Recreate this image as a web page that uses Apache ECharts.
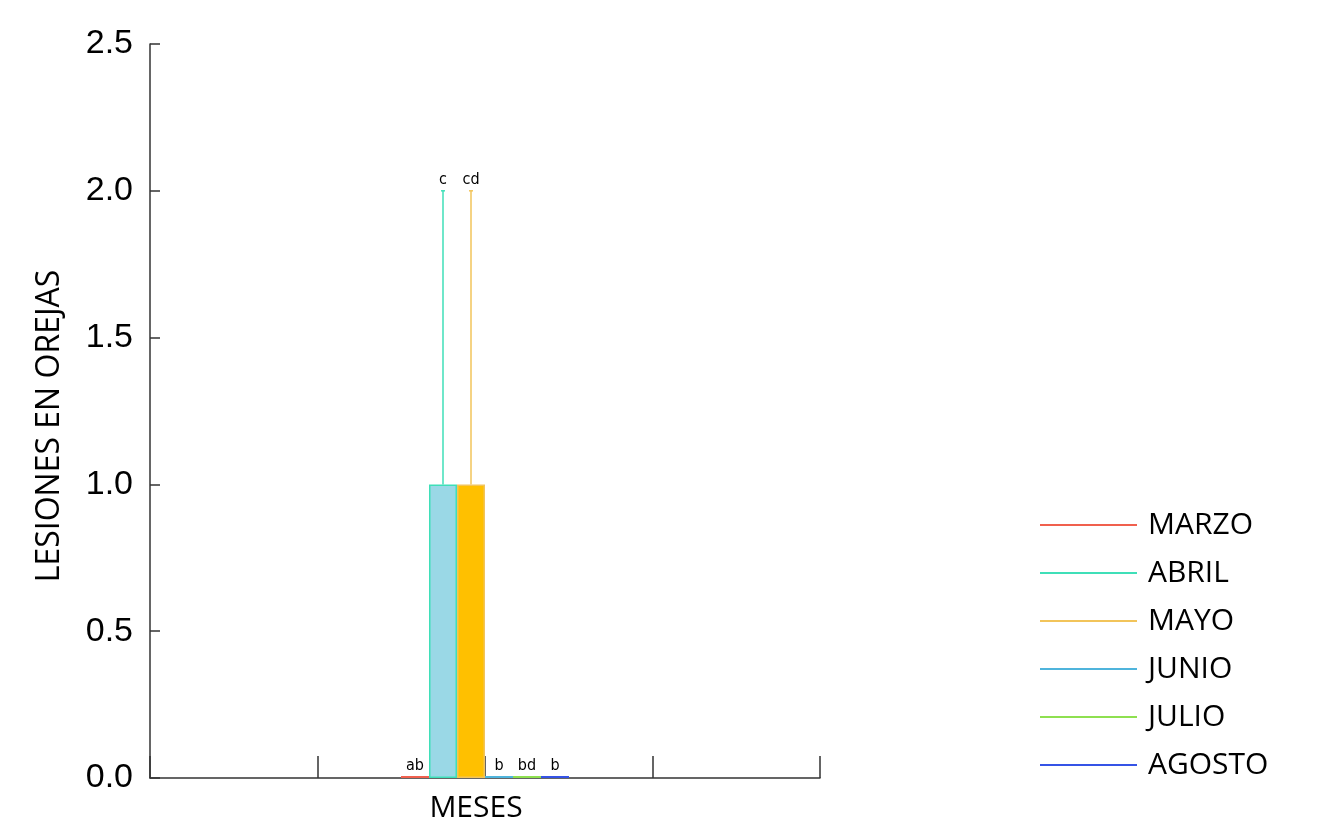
<!DOCTYPE html>
<html>
<head>
<meta charset="utf-8">
<script src="https://cdn.jsdelivr.net/npm/echarts@6/dist/echarts.min.js"></script>
<style>
  html, body { margin: 0; padding: 0; background: #ffffff; }
  #chart { width: 1330px; height: 827px; }
</style>
</head>
<body>
<div id="chart"></div>
<script>
// Single group of monthly means for ear lesions
const categories = ['MESES'];
const months = ['MARZO', 'ABRIL', 'MAYO', 'JUNIO', 'JULIO', 'AGOSTO'];
const means = [0, 1, 1, 0, 0, 0];
const upperErrors = [0, 2, 2, 0, 0, 0];
const letters = ['ab', 'c', 'cd', 'b', 'bd', 'b'];
const yTicks = [0, 0.5, 1.0, 1.5, 2.0, 2.5];

const lineColors = ['#F0604E', '#3FDFB8', '#F2C45A', '#4FB4DC', '#8EE050', '#3553E6'];
const fillColors = ['#F0604E', '#9AD8E6', '#FFC000', '#4FB4DC', '#8EE050', '#3553E6'];

const BAR_W = 28;
const chart = echarts.init(document.getElementById('chart'));

const barSeries = months.map((m, i) => ({
  name: m,
  type: 'bar',
  xAxisIndex: 0,
  barWidth: BAR_W,
  barGap: '0%',
  barMinHeight: 2,
  data: [means[i]],
  itemStyle: {
    color: fillColors[i],
    borderColor: lineColors[i],
    borderWidth: means[i] > 0 ? 1.5 : 0
  },
  emphasis: { disabled: true },
  z: 3
}));

// Error whiskers and significance letters, one per month
const annot = {
  type: 'custom',
  xAxisIndex: 0,
  silent: true,
  z: 4,
  data: months.map((m, i) => [0, means[i], upperErrors[i], i]),
  renderItem: function (params, api) {
    const i = api.value(3);
    const base = api.coord([0, api.value(1)]);
    const top = api.coord([0, api.value(2)]);
    const cx = base[0] + (i - (months.length - 1) / 2) * BAR_W;
    const children = [];
    let labelY = base[1] - 4;
    if (api.value(2) > api.value(1)) {
      children.push({
        type: 'line',
        shape: { x1: cx, y1: base[1], x2: cx, y2: top[1] },
        style: { stroke: lineColors[i], lineWidth: 1.5 }
      });
      children.push({
        type: 'line',
        shape: { x1: cx - 2, y1: top[1], x2: cx + 2, y2: top[1] },
        style: { stroke: lineColors[i], lineWidth: 1.5 }
      });
      labelY = top[1] - 3;
    }
    children.push({
      type: 'text',
      style: {
        x: cx, y: labelY,
        text: letters[i],
        align: 'center',
        verticalAlign: 'bottom',
        fill: '#000',
        font: '16px "Liberation Sans Narrow", "DejaVu Sans Condensed", sans-serif'
      }
    });
    return { type: 'group', children: children };
  }
};

chart.setOption({
  animation: false,
  backgroundColor: '#ffffff',
  grid: { left: 150, right: 510, top: 44, bottom: 49, containLabel: false },
  legend: {
    orient: 'vertical',
    left: 1040,
    top: 510,
    padding: 0,
    icon: 'rect',
    itemWidth: 97,
    itemHeight: 2,
    itemGap: 18,
    selectedMode: false,
    textStyle: {
      fontFamily: '"Open Sans", sans-serif',
      fontSize: 30,
      color: '#000',
      lineHeight: 30,
      padding: [0, 0, 0, 6]
    },
    data: months.map((m, i) => ({
      name: m,
      itemStyle: { color: lineColors[i], borderWidth: 0 }
    }))
  },
  xAxis: [
    {
      type: 'category',
      data: categories,
      axisLine: { show: false },
      axisTick: { show: false },
      axisLabel: {
        margin: 15,
        padding: [0, 18, 0, 0],
        fontFamily: '"Open Sans", sans-serif',
        fontSize: 30,
        color: '#000'
      }
    },
    {
      type: 'value',
      min: 0, max: 4, interval: 1,
      position: 'bottom',
      axisLine: { show: true, lineStyle: { color: '#333', width: 1.5 } },
      axisTick: { show: true, inside: true, length: 22, lineStyle: { color: '#333', width: 1.5 } },
      axisLabel: { show: false },
      splitLine: { show: false }
    }
  ],
  yAxis: {
    type: 'value',
    min: yTicks[0],
    max: yTicks[yTicks.length - 1],
    interval: 0.5,
    name: 'LESIONES EN OREJAS',
    nameLocation: 'middle',
    nameGap: 84,
    nameTextStyle: {
      fontFamily: '"Open Sans", sans-serif',
      fontSize: 32,
      color: '#000',
      padding: [0, 30, 0, 0]
    },
    axisLine: { show: true, lineStyle: { color: '#333', width: 1.5 } },
    axisTick: { show: true, inside: true, length: 10, lineStyle: { color: '#333', width: 1.5 } },
    axisLabel: {
      margin: 17,
      fontFamily: '"Liberation Sans", Arial, sans-serif',
      fontSize: 34,
      color: '#000',
      formatter: v => v.toFixed(1)
    },
    splitLine: { show: false }
  },
  series: barSeries.concat([annot])
});
</script>
</body>
</html>
